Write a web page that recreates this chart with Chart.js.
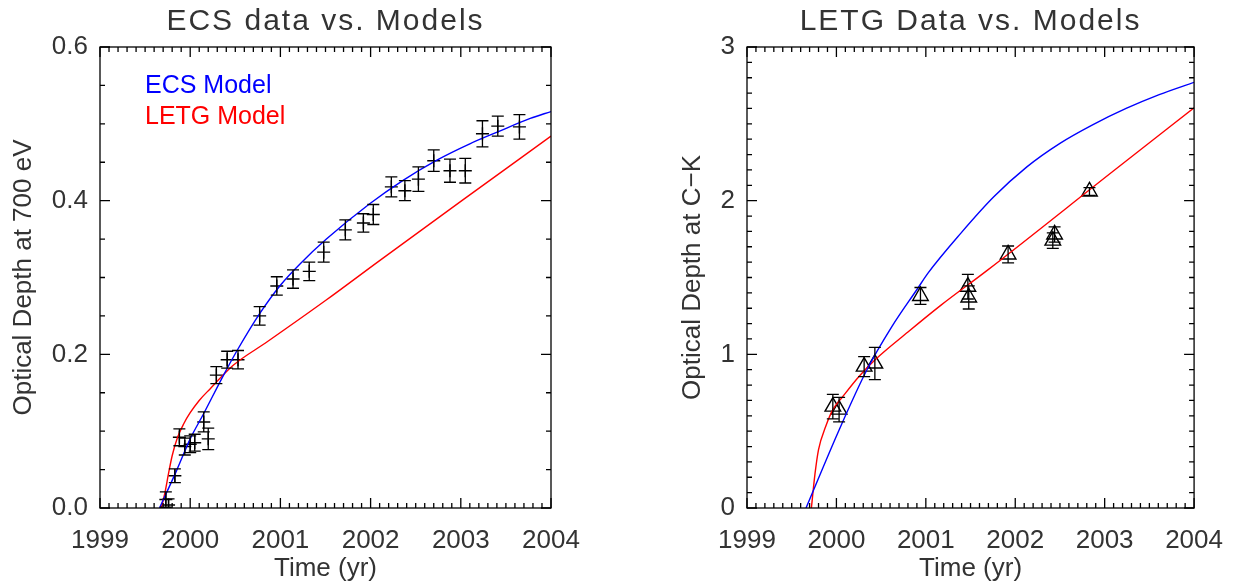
<!DOCTYPE html>
<html>
<head>
<meta charset="utf-8">
<script src="https://cdn.jsdelivr.net/npm/chart.js@4/dist/chart.umd.min.js"></script>
<style>
  body { margin: 0; background: #fff; }
  .panel { position: absolute; top: 0; width: 620px; height: 584px; }
</style>
</head>
<body>
<div class="panel" style="left:0"><canvas id="ecs" width="620" height="584"></canvas></div>
<div class="panel" style="left:620px"><canvas id="letg" width="620" height="584"></canvas></div>
<script>
// ---- left panel: ECS data (year, optical depth at 700 eV, 1-sigma error)
const ecsTime = [1999.73, 1999.76, 1999.83, 1999.88, 1999.94, 2000.00, 2000.05, 2000.15, 2000.20,
  2000.29, 2000.41, 2000.53, 2000.77, 2000.96, 2001.14, 2001.32, 2001.48, 2001.72, 2001.92,
  2002.03, 2002.23, 2002.38, 2002.53, 2002.70, 2002.88, 2003.05, 2003.24, 2003.41, 2003.65];
const ecsTau = [0.011, 0.004, 0.042, 0.092, 0.080, 0.083, 0.085, 0.112, 0.090,
  0.173, 0.193, 0.193, 0.250, 0.289, 0.298, 0.308, 0.333, 0.362, 0.371,
  0.382, 0.418, 0.413, 0.428, 0.452, 0.439, 0.439, 0.487, 0.497, 0.496];
const ecsErr = [0.010, 0.008, 0.009, 0.011, 0.011, 0.011, 0.011, 0.013, 0.014,
  0.011, 0.011, 0.012, 0.012, 0.012, 0.012, 0.012, 0.013, 0.013, 0.012,
  0.013, 0.013, 0.013, 0.016, 0.014, 0.015, 0.016, 0.017, 0.013, 0.016];

// model curves
const ecsModelTimeL = [1999.66, 1999.85, 2000.00, 2000.15, 2000.37, 2000.52, 2000.77, 2001.00, 2001.22,
  2001.51, 2001.99, 2002.36, 2002.73, 2003.10, 2003.41, 2003.77, 2004.00];
const ecsModelTauL = [0.000, 0.049, 0.090, 0.123, 0.173, 0.205, 0.253, 0.290, 0.318,
  0.350, 0.396, 0.4265, 0.4525, 0.474, 0.4895, 0.507, 0.516];
const letgModelTimeL = [1999.68, 1999.72, 1999.76, 1999.80, 1999.86, 1999.93, 2000.00, 2000.10, 2000.22,
  2000.48, 2000.85, 2001.50, 2002.10, 2003.00, 2004.00];
const letgModelTauL = [0.000, 0.020, 0.045, 0.068, 0.092, 0.110, 0.124, 0.140, 0.155,
  0.186, 0.216, 0.270, 0.322, 0.399, 0.484];

// ---- right panel: LETG data (year, optical depth at C-K, error)
const letgTime = [1999.96, 2000.03, 2000.31, 2000.43, 2000.94, 2001.47, 2001.48, 2001.92, 2002.44, 2002.42, 2002.83];
const letgTau = [0.66, 0.64, 0.92, 0.94, 1.38, 1.44, 1.37, 1.65, 1.78, 1.74, 2.06];
const letgErr = [0.08, 0.08, 0.065, 0.105, 0.055, 0.08, 0.075, 0.055, 0.05, 0.05, 0.025];

const ecsModelTimeR = [1999.66, 2000.03, 2000.34, 2000.62, 2000.91, 2001.02, 2001.39, 2001.76, 2002.13,
  2002.50, 2002.87, 2003.24, 2003.61, 2004.00];
const ecsModelTauR = [0.00, 0.508, 0.898, 1.18, 1.43, 1.525, 1.787, 2.025, 2.22,
  2.373, 2.495, 2.60, 2.69, 2.77];
const letgModelTimeR = [1999.72, 1999.76, 1999.80, 1999.88, 1999.96, 2000.07, 2000.25, 2000.43, 2000.80,
  2001.17, 2001.69, 2003.09, 2004.00];
const letgModelTauR = [0.00, 0.22, 0.38, 0.53, 0.64, 0.724, 0.854, 0.963, 1.145,
  1.32, 1.548, 2.19, 2.605];

// axis ticks
const xTicks = [1999, 2000, 2001, 2002, 2003, 2004];
const yTicksL = [0, 0.2, 0.4, 0.6];
const yTicksR = [0, 1, 2, 3];

const FONT = "'Liberation Sans', Arial, sans-serif";
const INK = '#333';

const pts = (xs, ys) => xs.map((x, i) => ({ x: x, y: ys[i] }));

const errorBars = {
  id: 'errorBars',
  afterDatasetsDraw(chart) {
    const { ctx, chartArea: a, scales: { x, y } } = chart;
    ctx.save();
    ctx.beginPath();
    ctx.rect(a.left, a.top, a.width, a.height);
    ctx.clip();
    ctx.strokeStyle = '#000';
    ctx.lineWidth = 1.3;
    chart.data.datasets.forEach(ds => {
      if (!ds.errors) return;
      const cap = ds.capWidth;
      ds.data.forEach((p, i) => {
        const px = x.getPixelForValue(p.x);
        const lo = y.getPixelForValue(p.y - ds.errors[i]);
        const hi = y.getPixelForValue(p.y + ds.errors[i]);
        ctx.beginPath();
        ctx.moveTo(px, lo); ctx.lineTo(px, hi);
        ctx.moveTo(px - cap, lo); ctx.lineTo(px + cap, lo);
        ctx.moveTo(px - cap, hi); ctx.lineTo(px + cap, hi);
        ctx.stroke();
      });
    });
    ctx.restore();
  }
};

// box frame with inward ticks on all four sides, plus heading and in-plot legend
const frame = {
  id: 'frame',
  afterDraw(chart, args, opts) {
    const { ctx, chartArea: a, scales: { x, y } } = chart;
    ctx.save();
    ctx.strokeStyle = '#000';
    ctx.lineWidth = 1.3;
    ctx.strokeRect(a.left, a.top, a.width, a.height);
    ctx.beginPath();
    for (let v = x.min; v <= x.max + 1e-9; v += opts.xMinor) {
      const px = x.getPixelForValue(v);
      const len = xTicks.some(t => Math.abs(t - v) < 1e-6) ? 10 : 5;
      ctx.moveTo(px, a.bottom); ctx.lineTo(px, a.bottom - len);
      ctx.moveTo(px, a.top); ctx.lineTo(px, a.top + len);
    }
    for (let v = y.min; v <= y.max + 1e-9; v += opts.yMinor) {
      const py = y.getPixelForValue(v);
      const len = opts.yMajor.some(t => Math.abs(t - v) < 1e-6) ? 10 : 5;
      ctx.moveTo(a.left, py); ctx.lineTo(a.left + len, py);
      ctx.moveTo(a.right, py); ctx.lineTo(a.right - len, py);
    }
    ctx.stroke();

    ctx.fillStyle = INK;
    ctx.font = '30px ' + FONT;
    ctx.letterSpacing = '2px';
    ctx.textAlign = 'center';
    ctx.textBaseline = 'middle';
    ctx.fillText(opts.heading, (a.left + a.right) / 2, 22);

    if (opts.legend) {
      ctx.font = '25px ' + FONT;
      ctx.letterSpacing = '0px';
      ctx.textAlign = 'left';
      opts.legend.forEach((item, i) => {
        ctx.fillStyle = item.color;
        ctx.fillText(item.text, a.left + 45, 86 + i * 31);
      });
    }
    ctx.restore();
  }
};

function makeChart(id, cfg) {
  return new Chart(document.getElementById(id), {
    type: 'scatter',
    data: {
      datasets: [
        {
          label: 'ECS Model', data: pts(cfg.ecsT, cfg.ecsV), showLine: true,
          borderColor: '#0000ff', borderWidth: 1.4, pointRadius: 0,
          cubicInterpolationMode: 'monotone'
        },
        {
          label: 'LETG Model', data: pts(cfg.letgT, cfg.letgV), showLine: true,
          borderColor: '#ff0000', borderWidth: 1.4, pointRadius: 0,
          cubicInterpolationMode: 'monotone'
        },
        {
          label: 'data', data: pts(cfg.dataT, cfg.dataV), errors: cfg.dataE, capWidth: cfg.cap,
          pointStyle: cfg.marker, pointRadius: cfg.markerSize, borderColor: '#000',
          backgroundColor: 'rgba(0,0,0,0)', borderWidth: 1.4
        }
      ]
    },
    options: {
      responsive: false,
      animation: false,
      devicePixelRatio: 1,
      layout: { padding: { left: 0, right: cfg.padRight, top: 47, bottom: 0 } },
      plugins: {
        legend: { display: false },
        tooltip: { enabled: false },
        frame: { heading: cfg.heading, xMinor: 0.1, yMinor: cfg.yMinor, yMajor: cfg.yTicks, legend: cfg.legend }
      },
      scales: {
        x: {
          type: 'linear', min: 1999, max: 2004,
          afterBuildTicks: s => { s.ticks = xTicks.map(v => ({ value: v })); },
          afterFit: s => { s.height = 76; },
          grid: { display: false, drawTicks: false },
          border: { display: false },
          ticks: { color: INK, font: { family: FONT, size: 26 }, padding: 17, maxRotation: 0, callback: v => String(v) },
          title: { display: true, text: 'Time (yr)', color: INK, font: { family: FONT, size: 26 }, padding: { top: 0, bottom: 0 } }
        },
        y: {
          type: 'linear', min: cfg.yTicks[0], max: cfg.yTicks[cfg.yTicks.length - 1],
          afterBuildTicks: s => { s.ticks = cfg.yTicks.map(v => ({ value: v })); },
          afterFit: s => { s.width = cfg.yWidth; },
          grid: { display: false, drawTicks: false },
          border: { display: false },
          ticks: { color: INK, font: { family: FONT, size: 26 }, padding: 12, callback: cfg.yFormat },
          title: { display: true, text: cfg.yTitle, color: INK, font: { family: FONT, size: 26 }, padding: { top: cfg.yTitlePad, bottom: 0 } }
        }
      }
    },
    plugins: [errorBars, frame]
  });
}

makeChart('ecs', {
  heading: 'ECS data vs. Models',
  ecsT: ecsModelTimeL, ecsV: ecsModelTauL, letgT: letgModelTimeL, letgV: letgModelTauL,
  dataT: ecsTime, dataV: ecsTau, dataE: ecsErr, cap: 6, marker: 'cross', markerSize: 6.5,
  yTicks: yTicksL, yMinor: 0.05, yFormat: v => v.toFixed(1), yWidth: 100, padRight: 69,
  yTitle: 'Optical Depth at 700 eV', yTitlePad: 8,
  legend: [{ text: 'ECS Model', color: '#0000ff' }, { text: 'LETG Model', color: '#ff0000' }]
});

makeChart('letg', {
  heading: 'LETG Data vs. Models',
  ecsT: ecsModelTimeR, ecsV: ecsModelTauR, letgT: letgModelTimeR, letgV: letgModelTauR,
  dataT: letgTime, dataV: letgTau, dataE: letgErr, cap: 6, marker: 'triangle', markerSize: 9,
  yTicks: yTicksR, yMinor: 0.1, yFormat: v => String(v), yWidth: 127, padRight: 41,
  yTitle: 'Optical Depth at C\u2212K', yTitlePad: 57,
  legend: null
});
</script>
</body>
</html>
